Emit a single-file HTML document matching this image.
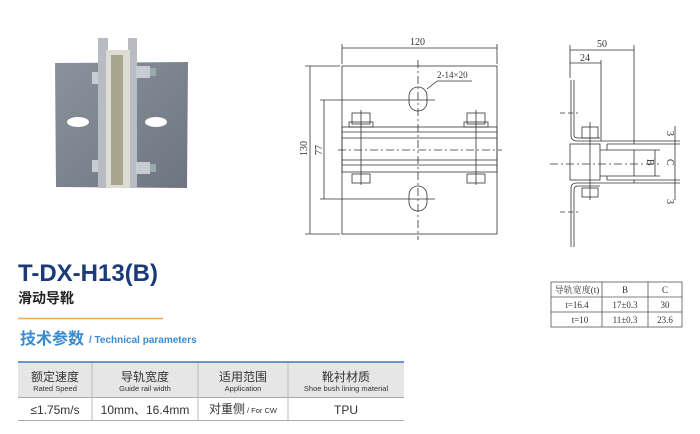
<!DOCTYPE html>
<html><head><meta charset="utf-8"><style>
body{margin:0;background:#fff;width:700px;height:434px;overflow:hidden;font-family:"Liberation Sans","Noto Sans CJK SC",sans-serif}
svg{position:absolute;left:0;top:0}
</style></head><body>
<svg width="700" height="434" viewBox="0 0 700 434" xmlns="http://www.w3.org/2000/svg">
<defs><linearGradient id="pl" x1="0" x2="1" y1="0" y2="1"><stop offset="0" stop-color="#8a929c"/><stop offset="1" stop-color="#6d7580"/></linearGradient></defs>
<!-- photo -->
<polygon points="55,63 188,62 187,188 56,187" fill="url(#pl)"/>
<ellipse cx="78" cy="122" rx="11" ry="5" fill="#fff"/>
<ellipse cx="156" cy="122" rx="11" ry="5" fill="#fff"/>
<rect x="98" y="38" width="10" height="150" fill="#b8bcc2"/>
<rect x="128" y="38" width="9" height="150" fill="#b8bcc2"/>
<rect x="106" y="50" width="24" height="138" fill="#dcdcd2"/>
<rect x="111" y="55" width="12" height="130" fill="#a8a48e"/>
<rect x="136" y="66" width="14" height="12" fill="#c8ccd2"/><rect x="150" y="68" width="6" height="8" fill="#9aa"/>
<rect x="136" y="162" width="14" height="12" fill="#c8ccd2"/><rect x="150" y="164" width="6" height="8" fill="#9aa"/>
<rect x="92" y="72" width="6" height="12" fill="#c8ccd2"/><rect x="92" y="160" width="6" height="12" fill="#c8ccd2"/>
<!-- middle drawing -->
<g stroke="#333" stroke-width="0.8" fill="none">
<rect x="342" y="66" width="155" height="168"/>
<rect x="342" y="127" width="155" height="45"/>
<line x1="342" y1="132" x2="497" y2="132"/><line x1="342" y1="138" x2="497" y2="138"/>
<line x1="342" y1="160" x2="497" y2="160"/><line x1="342" y1="165" x2="497" y2="165"/>
<rect x="409" y="87" width="18" height="24" rx="9"/>
<rect x="409" y="186" width="18" height="25" rx="9"/>
<rect x="352" y="113" width="18" height="11"/><rect x="349" y="122" width="24" height="5"/>
<rect x="467" y="113" width="18" height="11"/><rect x="464" y="122" width="24" height="5"/>
<rect x="352" y="174" width="18" height="9"/><rect x="467" y="174" width="18" height="9"/>
<line x1="361" y1="110" x2="361" y2="185"/><line x1="476" y1="110" x2="476" y2="185"/>
<line x1="418" y1="60" x2="418" y2="240" stroke-dasharray="8,3,2,3"/>
<line x1="338" y1="150" x2="502" y2="150" stroke-dasharray="8,3,2,3"/>
<line x1="342" y1="44" x2="342" y2="64"/><line x1="497" y1="44" x2="497" y2="64"/>
<line x1="342" y1="48" x2="497" y2="48"/>
<line x1="305" y1="66" x2="340" y2="66"/><line x1="305" y1="234" x2="340" y2="234"/>
<line x1="310" y1="66" x2="310" y2="234"/>
<line x1="320" y1="100" x2="435" y2="100"/><line x1="320" y1="199" x2="435" y2="199"/>
<line x1="324" y1="100" x2="324" y2="199"/>
<line x1="427" y1="89" x2="437" y2="81"/><line x1="437" y1="81" x2="472" y2="81"/>
</g>
<g font-family="Liberation Serif,serif" font-size="10" fill="#333">
<text x="410" y="45">120</text>
<text x="437" y="78" font-size="9">2-14×20</text>
<text transform="translate(307,156) rotate(-90)">130</text>
<text transform="translate(322,155) rotate(-90)">77</text>
</g>
<!-- right drawing -->
<g stroke="#333" stroke-width="0.8" fill="none">
<path d="M571,80 V135 Q571,141 577,141 H634 M574,80 V135 Q574,138 578,138 H600"/>
<path d="M571,247 V188 Q571,183 577,183 H634 M574,247 V190 Q574,186 578,186 H600"/>
<rect x="570" y="144" width="30" height="36"/>
<path d="M600,150 H634 V176 H600 M607,144 V150 M607,176 V180 M607,144 H634 V141 M607,180 H634 V183"/>
<rect x="582" y="127" width="16" height="11"/><rect x="582" y="188" width="16" height="9"/>
<line x1="590" y1="122" x2="590" y2="200"/>
<line x1="550" y1="164" x2="660" y2="164" stroke-dasharray="8,3,2,3"/>
<line x1="560" y1="113" x2="578" y2="113" stroke-dasharray="5,3"/><line x1="560" y1="212" x2="578" y2="212" stroke-dasharray="5,3"/>
<line x1="570" y1="45" x2="570" y2="78"/><line x1="634" y1="45" x2="634" y2="141"/><line x1="601" y1="60" x2="601" y2="141"/>
<line x1="570" y1="50" x2="634" y2="50"/><line x1="570" y1="63" x2="601" y2="63"/>
<line x1="634" y1="150" x2="660" y2="150"/><line x1="634" y1="176" x2="660" y2="176"/>
<line x1="655" y1="150" x2="655" y2="176"/>
<line x1="634" y1="141" x2="680" y2="141"/><line x1="634" y1="144" x2="680" y2="144"/>
<line x1="634" y1="180" x2="680" y2="180"/><line x1="634" y1="183" x2="680" y2="183"/>
<line x1="675" y1="126" x2="675" y2="200"/>
</g>
<g font-family="Liberation Serif,serif" font-size="10" fill="#333">
<text x="597" y="47">50</text><text x="580" y="61">24</text>
<text transform="translate(667,131) rotate(90)">3</text>
<text transform="translate(667,199) rotate(90)">3</text>
<text transform="translate(647,159) rotate(90)">B</text>
<text transform="translate(667,159) rotate(90)">C</text>
</g>
<!-- small table -->
<g stroke="#555" stroke-width="0.8" fill="none">
<rect x="551" y="282" width="131" height="45"/>
<line x1="551" y1="297" x2="682" y2="297"/><line x1="551" y1="312" x2="682" y2="312"/>
<line x1="602" y1="282" x2="602" y2="327"/><line x1="648" y1="282" x2="648" y2="327"/>
</g>
<g font-family="Liberation Serif,'Noto Serif CJK SC',serif" font-size="9" fill="#333" text-anchor="middle">
<text x="577" y="293">导轨宽度(t)</text><text x="625" y="293">B</text><text x="665" y="293">C</text>
<text x="577" y="308">t=16.4</text><text x="625" y="308">17±0.3</text><text x="665" y="308">30</text>
<text x="580" y="323">t=10</text><text x="625" y="323">11±0.3</text><text x="665" y="323">23.6</text>
</g>
<!-- titles -->
<text x="18" y="281" font-size="24" font-weight="bold" fill="#1a3a7a">T-DX-H13(B)</text>
<text x="18" y="303" font-size="14" font-weight="bold" fill="#222">滑动导靴</text>
<line x1="18" y1="318.5" x2="163" y2="318.5" stroke="#f0a860" stroke-width="1.5"/>
<text x="20" y="344" font-size="16" font-weight="bold" fill="#3a8ad0">技术参数</text>
<text x="89" y="343" font-size="10" font-weight="bold" fill="#3a8ad0">/ Technical parameters</text>
<!-- main table -->
<rect x="18" y="362" width="386" height="35" fill="#e6e6e6"/>
<line x1="18" y1="362" x2="404" y2="362" stroke="#3a7ac0" stroke-width="1.5"/>
<line x1="18" y1="397.5" x2="404" y2="397.5" stroke="#aaa"/>
<line x1="18" y1="420.5" x2="404" y2="420.5" stroke="#aaa"/>
<g stroke="#bbb"><line x1="92" y1="363" x2="92" y2="420"/><line x1="198" y1="363" x2="198" y2="420"/><line x1="288" y1="363" x2="288" y2="420"/></g>
<g text-anchor="middle" fill="#333">
<text x="55" y="381" font-size="12">额定速度</text><text x="55" y="391" font-size="7.5">Rated Speed</text>
<text x="145" y="381" font-size="12">导轨宽度</text><text x="145" y="391" font-size="7.5">Guide rail width</text>
<text x="243" y="381" font-size="12">适用范围</text><text x="243" y="391" font-size="7.5">Application</text>
<text x="346" y="381" font-size="12">靴衬材质</text><text x="346" y="391" font-size="7.5">Shoe bush lining material</text>
<text x="55" y="414" font-size="12">≤1.75m/s</text>
<text x="145" y="414" font-size="12">10mm、16.4mm</text>
<text x="346" y="414" font-size="12">TPU</text>
</g>
<text x="209" y="413" font-size="12" fill="#333">对重侧</text>
<text x="247" y="413" font-size="7.5" fill="#333">/ For CW</text>
</svg>
</body></html>
